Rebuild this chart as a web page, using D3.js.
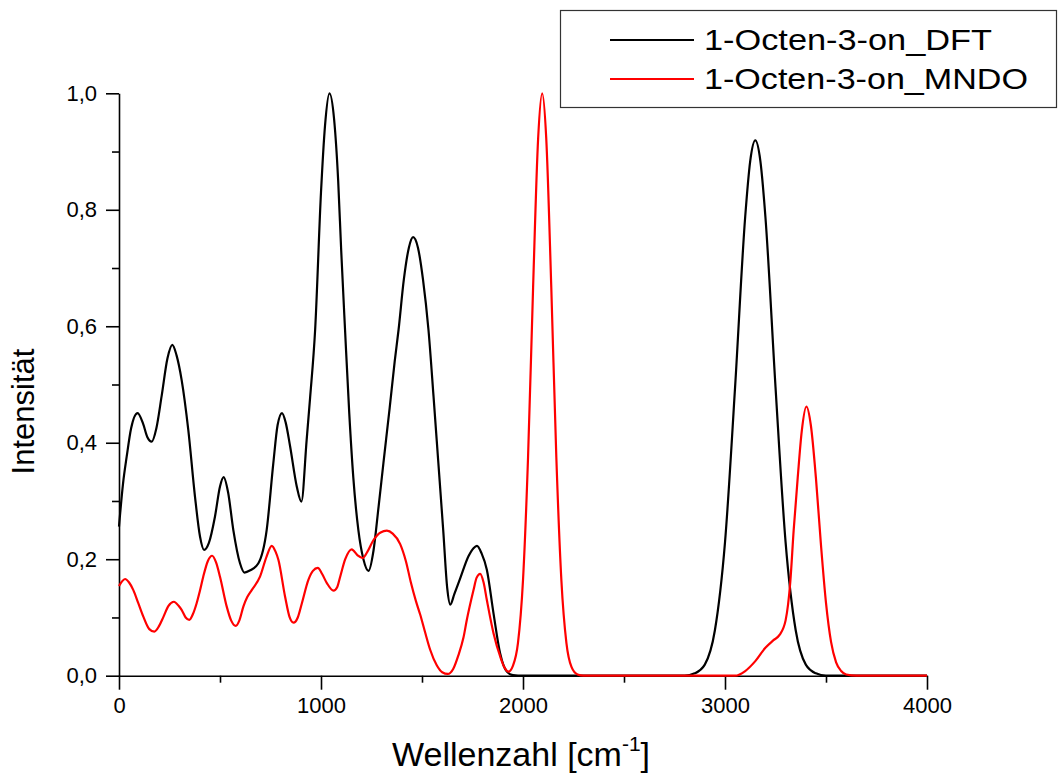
<!DOCTYPE html>
<html><head><meta charset="utf-8">
<script src="https://cdn.jsdelivr.net/npm/d3@7"></script>
<style>
html,body{margin:0;padding:0;background:#fff;}
text{font-family:"Liberation Sans",Arial,sans-serif;fill:#000;}
</style></head>
<body>
<svg id="chart" width="1059" height="778"></svg>
<script>
const seriesNames = ["1-Octen-3-on_DFT", "1-Octen-3-on_MNDO"];
const seriesColors = ["#000000", "#ff0000"];
const xTickMajor = [0, 1000, 2000, 3000, 4000];
const xTickMinor = [500, 1500, 2500, 3500];
const yTickMajor = [0, 0.2, 0.4, 0.6, 0.8, 1.0];
const yTickMinor = [0.1, 0.3, 0.5, 0.7, 0.9];

const dftWavenumber = [0,20,38,60,92,120,140,162,185,211,240,264,285,310,343,376,401,421,445,475,500,518,540,566,599,621,650,690,731,764,785,807,825,847,880,903,929,946,971,1000,1020,1042,1065,1085,1100,1119,1140,1160,1185,1210,1235,1260,1285,1309,1340,1365,1384,1410,1435,1456,1480,1505,1532,1557,1580,1605,1625,1640,1660,1689,1730,1755,1772,1795,1821,1854,1887,1920,1950,2000,2800,2850,2900,2950,3000,3050,3100,3125,3150,3175,3200,3250,3300,3350,3400,3450,3500,4000];
const dftIntensity = [0.256,0.33,0.376,0.425,0.451,0.432,0.41,0.402,0.425,0.48,0.545,0.568,0.55,0.508,0.422,0.308,0.239,0.216,0.228,0.273,0.325,0.341,0.315,0.25,0.193,0.177,0.181,0.193,0.25,0.365,0.43,0.451,0.435,0.394,0.325,0.299,0.405,0.477,0.594,0.83,0.945,1.0,0.955,0.85,0.73,0.594,0.45,0.34,0.25,0.2,0.18,0.215,0.29,0.365,0.46,0.54,0.594,0.68,0.735,0.753,0.735,0.68,0.594,0.48,0.37,0.25,0.15,0.122,0.14,0.167,0.205,0.219,0.223,0.21,0.182,0.107,0.038,0.007,0.001,0,0,0.004,0.019,0.078,0.229,0.496,0.788,0.884,0.919,0.884,0.788,0.496,0.229,0.078,0.019,0.004,0,0];

const mndoWavenumber = [0,15,30,50,71,95,121,150,175,198,220,245,272,295,310,330,348,365,384,400,417,440,461,480,500,533,555,578,596,616,635,657,698,731,756,775,789,822,845,864,885,905,938,960,984,1005,1029,1062,1080,1095,1120,1152,1180,1207,1230,1260,1295,1326,1355,1392,1420,1445,1470,1491,1515,1540,1573,1600,1628,1655,1680,1705,1722,1755,1770,1788,1805,1821,1854,1887,1910,1928,1950,1975,2000,2025,2050,2075,2095,2115,2140,2165,2190,2215,2240,2270,2300,3050,3100,3150,3200,3240,3270,3300,3323,3340,3360,3380,3403,3425,3450,3475,3500,3525,3550,3575,3600,3650,4000];
const mndoIntensity = [0.154,0.162,0.166,0.16,0.147,0.125,0.101,0.08,0.0757,0.085,0.101,0.12,0.127,0.12,0.113,0.1,0.096,0.105,0.124,0.145,0.17,0.197,0.206,0.195,0.17,0.119,0.095,0.0855,0.095,0.119,0.135,0.147,0.17,0.205,0.223,0.213,0.199,0.136,0.1,0.091,0.1,0.124,0.165,0.18,0.185,0.175,0.159,0.146,0.152,0.17,0.2,0.217,0.207,0.202,0.213,0.233,0.246,0.249,0.244,0.226,0.197,0.16,0.128,0.105,0.075,0.045,0.018,0.006,0.003,0.012,0.035,0.065,0.096,0.147,0.168,0.175,0.16,0.13,0.073,0.033,0.013,0.007,0.017,0.056,0.164,0.375,0.667,0.923,1.0,0.923,0.667,0.375,0.164,0.056,0.015,0.002,0,0,0.008,0.025,0.048,0.061,0.07,0.095,0.16,0.25,0.34,0.42,0.462,0.43,0.34,0.225,0.125,0.058,0.023,0.008,0.002,0,0];

const svg = d3.select("#chart");
const x = d3.scaleLinear().domain([0, 4000]).range([119, 927]);
const y = d3.scaleLinear().domain([0, 1]).range([675.7, 93.3]);
const fmtY = v => d3.format(".1f")(v).replace(".", ",");

// minor ticks
svg.append("g").attr("transform", `translate(${x(0)},0)`)
  .call(d3.axisLeft(y).tickValues(yTickMinor).tickSize(7).tickSizeOuter(0).tickFormat(""))
  .call(g => g.select(".domain").remove())
  .selectAll("line").attr("stroke", "#000").attr("stroke-width", 1.6);
svg.append("g").attr("transform", `translate(0,${y(0)})`)
  .call(d3.axisBottom(x).tickValues(xTickMinor).tickSize(7).tickSizeOuter(0).tickFormat(""))
  .call(g => g.select(".domain").remove())
  .selectAll("line").attr("stroke", "#000").attr("stroke-width", 1.6);

// major axes
const gy = svg.append("g").attr("transform", `translate(${x(0)},0)`)
  .call(d3.axisLeft(y).tickValues(yTickMajor).tickSize(13).tickSizeOuter(0).tickPadding(9).tickFormat(fmtY));
gy.select(".domain").attr("stroke", "#000").attr("stroke-width", 1.6);
gy.selectAll("line").attr("stroke", "#000").attr("stroke-width", 1.6);
gy.selectAll("text").style("font-size", "22px").style("font-family", '"Liberation Sans",Arial,sans-serif');

const gx = svg.append("g").attr("transform", `translate(0,${y(0)})`)
  .call(d3.axisBottom(x).tickValues(xTickMajor).tickSize(14).tickSizeOuter(0).tickPadding(8).tickFormat(d3.format("d")));
gx.select(".domain").attr("stroke", "#000").attr("stroke-width", 1.6);
gx.selectAll("line").attr("stroke", "#000").attr("stroke-width", 1.6);
gx.selectAll("text").style("font-size", "22px").style("font-family", '"Liberation Sans",Arial,sans-serif');

// lines
const line = d3.line().x(d => x(d[0])).y(d => y(d[1])).curve(d3.curveMonotoneX);
const dftData = dftWavenumber.map((w, i) => [w, dftIntensity[i]]);
const mndoData = mndoWavenumber.map((w, i) => [w, mndoIntensity[i]]);
[dftData, mndoData].forEach((data, i) => {
  svg.append("path").datum(data).attr("d", line)
    .attr("fill", "none").attr("stroke", seriesColors[i]).attr("stroke-width", 2.2)
    .attr("stroke-linejoin", "round");
});

// axis titles
const xt = svg.append("text").attr("x", 392).attr("y", 766).style("font-size", "34px");
xt.append("tspan").text("Wellenzahl [cm");
xt.append("tspan").attr("dy", -15).style("font-size", "21px").text("-1");
xt.append("tspan").attr("dy", 15).text("]");

svg.append("text").attr("transform", "translate(33.5,411.5) rotate(-90)")
  .attr("text-anchor", "middle").style("font-size", "31px").text("Intensität");

// legend
const lg = svg.append("g");
lg.append("rect").attr("x", 560.5).attr("y", 10.5).attr("width", 496).attr("height", 97)
  .attr("fill", "#fff").attr("stroke", "#333").attr("stroke-width", 1.2);
const legY = [40, 79];
const legW = [288, 324];
seriesNames.forEach((name, i) => {
  lg.append("line").attr("x1", 610).attr("x2", 694).attr("y1", legY[i]).attr("y2", legY[i])
    .attr("stroke", seriesColors[i]).attr("stroke-width", 2);
  lg.append("text").attr("x", 704).attr("y", legY[i] + 10).style("font-size", "29px")
    .attr("textLength", legW[i]).attr("lengthAdjust", "spacingAndGlyphs").text(name);
});
</script>
</body></html>
